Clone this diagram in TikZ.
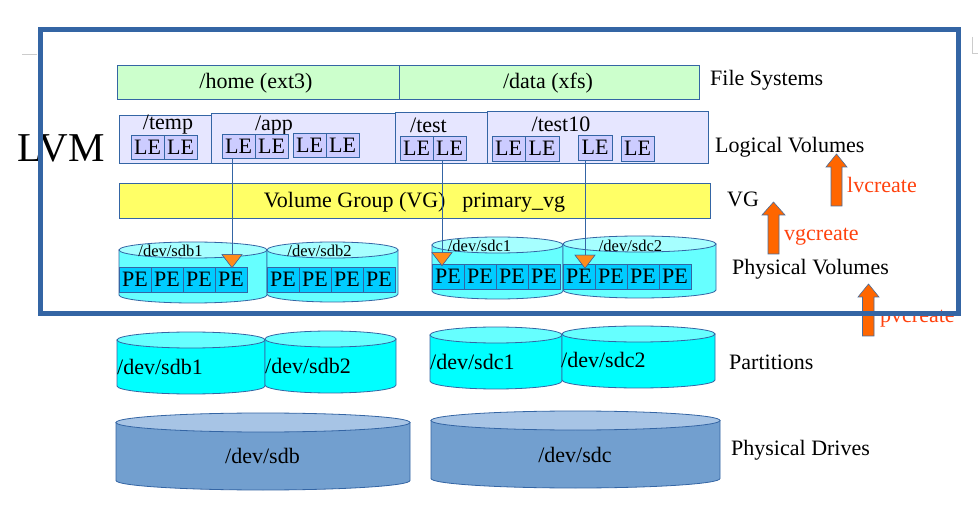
\documentclass[tikz,border=0pt]{standalone}
\usepackage{fontspec}
\setmainfont{Liberation Serif}
\usetikzlibrary{shapes.geometric}
\definecolor{lnblue}{HTML}{3465A4}
\definecolor{fsgreen}{HTML}{CCFFCC}
\definecolor{lvfill}{HTML}{E6E6FF}
\definecolor{lefill}{HTML}{CCCCFF}
\definecolor{vgyellow}{HTML}{FFFF66}
\definecolor{pvbody}{HTML}{66FFFF}
\definecolor{pvtop}{HTML}{A6FFFF}
\definecolor{pefill}{HTML}{00CCFF}
\definecolor{ptbody}{HTML}{00FFFF}
\definecolor{pttop}{HTML}{66FFFF}
\definecolor{drbody}{HTML}{729FCF}
\definecolor{drtop}{HTML}{A7C4E5}
\definecolor{trifill}{HTML}{FF8C1A}
\definecolor{arrfill}{HTML}{FF6600}
\definecolor{cmdred}{HTML}{FF420E}
\newcommand{\mycyl}[7]{% x1 x2 ytop ybot ry bodycolor topcolor
  \filldraw[fill=#6,draw=lnblue,line width=0.8pt] (#1,#3) -- (#1,#4)
    arc[start angle=180,end angle=360,x radius={(#2-#1)/2},y radius=#5] -- (#2,#3) -- cycle;
  \filldraw[fill=#7,draw=lnblue,line width=0.8pt] ({(#1+#2)/2},#3) ellipse[x radius={(#2-#1)/2},y radius=#5];
}
\tikzset{
  base/.style={inner sep=0pt,outer sep=0pt,line width=0.8pt,draw=lnblue},
  fsbox/.style={base,fill=fsgreen},
  lvbox/.style={base,fill=lvfill},
  lebox/.style={base,fill=lefill},
  pebox/.style={base,fill=pefill},
  vgbox/.style={base,fill=vgyellow},
  txt/.style={inner sep=0pt,font=\fontsize{22}{25}\selectfont},
  small/.style={inner sep=0pt,font=\fontsize{16.5}{19}\selectfont},
  cmd/.style={inner sep=0pt,text=cmdred,font=\fontsize{22}{25}\selectfont,anchor=base west},
  lbl/.style={txt,anchor=base west},
  tri/.style={isosceles triangle,isosceles triangle apex angle=75,shape border rotate=-90,
    fill=trifill,draw=lnblue,line width=0.5pt,inner sep=0pt,minimum height=13pt,minimum width=20pt},
  link/.style={draw=lnblue,line width=0.8pt},
  upar/.style={fill=arrfill,draw=lnblue!70!gray,line width=0.6pt},
}
\newcommand{\rbox}[6]{% name style x1 y1 x2 y2
  \node[#2,minimum width={(#5-#3)*1pt},minimum height={(#4-#6)*1pt},anchor=north west] (#1) at (#3,#4) {};
}
\begin{document}
\begin{tikzpicture}[x=1pt,y=1pt]
\useasboundingbox (0,0) rectangle (978,504);
\fill[white] (0,0) rectangle (978,504);
% gray marks
\draw[black!20,line width=1pt] (22,449) -- (37,449);
\draw[black!20,line width=1pt] (972,467) -- (972,450) -- (978,450);

% LVM
\node[inner sep=0pt,anchor=base,font=\fontsize{41}{46}\selectfont] (lvm) at (61,342) {LVM};

% File systems
\rbox{home}{fsbox}{117}{439}{399}{405}
\rbox{data}{fsbox}{399}{439}{699}{405}
\node[txt,anchor=base] (homet) at (256,415) {/home (ext3)};
\node[txt,anchor=base] (datat) at (548,415) {/data (xfs)};

% Logical volumes
\rbox{temp}{lvbox}{119}{389}{212}{341}
\rbox{app}{lvbox}{211}{391}{395}{341}
\rbox{test}{lvbox}{395}{392}{487}{341}
\rbox{testx}{lvbox}{487}{393}{708}{341}
\node[txt,anchor=base] (tempt) at (168,374) {/temp};
\node[txt,anchor=base] (appt) at (274,373) {/app};
\node[txt,anchor=base] (testt) at (428.5,371) {/test};
\node[txt,anchor=base] (testxt) at (561,372) {/test10};
\foreach \n/\a/\b/\c/\d in {t1/131/369/164/345, t2/164/369/197/345,
  a1/222/370/255/346, a2/255/370/288/346, a3/293/371/326/347, a4/326/371/359/347,
  s1/400/368/433/344, s2/433/368/466/344,
  u1/492/368/525/343, u2/525/368/559/343, u3/578/369/612/344, u4/621/368/654/343}{
  \rbox{\n}{lebox}{\a}{\b}{\c}{\d}
  \node[txt] at (\n.center) {LE};
}

% VG
\rbox{vg}{vgbox}{119}{321}{710}{286}
\node[txt,anchor=base] (vgt) at (414.5,296) {Volume Group (VG)\hspace{17pt}primary\_vg};

% commands (drawn before frame)
\draw[upar] (831,298) -- (831,337) -- (826,337) -- (836.5,350) -- (847,337) -- (842,337) -- (842,298) -- cycle;
\draw[upar] (768,250) -- (768,289) -- (762,289) -- (773.5,302) -- (785,289) -- (779,289) -- (779,250) -- cycle;
\draw[upar] (862.5,168) -- (862.5,207) -- (858,207) -- (868.5,220) -- (879,207) -- (874,207) -- (874,168) -- cycle;
\node[cmd] (lvc) at (847,311) {lvcreate};
\node[cmd] (vgc) at (784,263) {vgcreate};
\node[cmd] (pvc) at (880,181) {pvcreate};

% Physical volumes
\mycyl{119}{267}{254}{209}{8}{pvbody}{pvtop}
\mycyl{267}{398}{254}{210}{8}{pvbody}{pvtop}
\mycyl{432}{563}{259}{213}{8}{pvbody}{pvtop}
\mycyl{563}{716}{260}{214}{8}{pvbody}{pvtop}
\node[small,anchor=base] (pv1) at (170.5,247) {/dev/sdb1};
\node[small,anchor=base] (pv2) at (319.5,247) {/dev/sdb2};
\node[small,anchor=base] (pv3) at (479.5,252) {/dev/sdc1};
\node[small,anchor=base] (pv4) at (630.5,252) {/dev/sdc2};
\foreach \g/\xs/\yt in {b/119/237, c/267/237, d/432/240, e/563/240}{
  \foreach \i in {0,1,2,3}{
    \pgfmathsetmacro{\xa}{\xs+32*\i}
    \pgfmathsetmacro{\xb}{\xs+32*\i+32}
    \pgfmathsetmacro{\yb}{\yt-25}
    \rbox{pe\g\i}{pebox}{\xa}{\yt}{\xb}{\yb}
    \node[txt] at (pe\g\i.center) {PE};
  }
}

% LE -> PE links
\node[tri] (tri1) at (232,244.5) {};
\node[tri] (tri2) at (442,246.5) {};
\node[tri] (tri3) at (585,244) {};
\coordinate (c1) at (232,346);
\coordinate (c2) at (442,344);
\coordinate (c3) at (585,344);
\draw[link] (c1) -- (tri1.center);
\draw[link] (c2) -- (tri2.center);
\draw[link] (c3) -- (tri3.center);
\node[tri] at (tri1.center) {};
\node[tri] at (tri2.center) {};
\node[tri] at (tri3.center) {};

% Partitions
\mycyl{117}{265}{164}{118}{8}{ptbody}{pttop}
\mycyl{265}{396}{165}{119}{8}{ptbody}{pttop}
\mycyl{430}{562}{169}{123}{8}{ptbody}{pttop}
\mycyl{562}{715}{170}{124}{8}{ptbody}{pttop}
\node[txt,anchor=base west] (p1) at (117,129) {/dev/sdb1};
\node[txt,anchor=base west] (p2) at (265,130) {/dev/sdb2};
\node[txt,anchor=base west] (p3) at (430,134) {/dev/sdc1};
\node[txt,anchor=base west] (p4) at (561,136) {/dev/sdc2};

% Drives
\mycyl{116}{410}{81.5}{23.5}{9.5}{drbody}{drtop}
\mycyl{431}{720}{83.5}{25.5}{9.5}{drbody}{drtop}
\node[txt,anchor=base] (d1) at (262.5,41) {/dev/sdb};
\node[txt,anchor=base] (d2) at (575,42) {/dev/sdc};

% Right labels
\node[lbl] (l1) at (710,418) {File Systems};
\node[lbl] (l2) at (715,351) {Logical Volumes};
\node[lbl] (l3) at (727,297) {VG};
\node[lbl] (l4) at (732,229) {Physical Volumes};
\node[lbl] (l5) at (729,135) {Partitions};
\node[lbl] (l6) at (731,49) {Physical Drives};

% LVM frame
\draw[lnblue,line width=5pt] (40,474.5) rectangle (958.5,190);
\end{tikzpicture}
\end{document}
